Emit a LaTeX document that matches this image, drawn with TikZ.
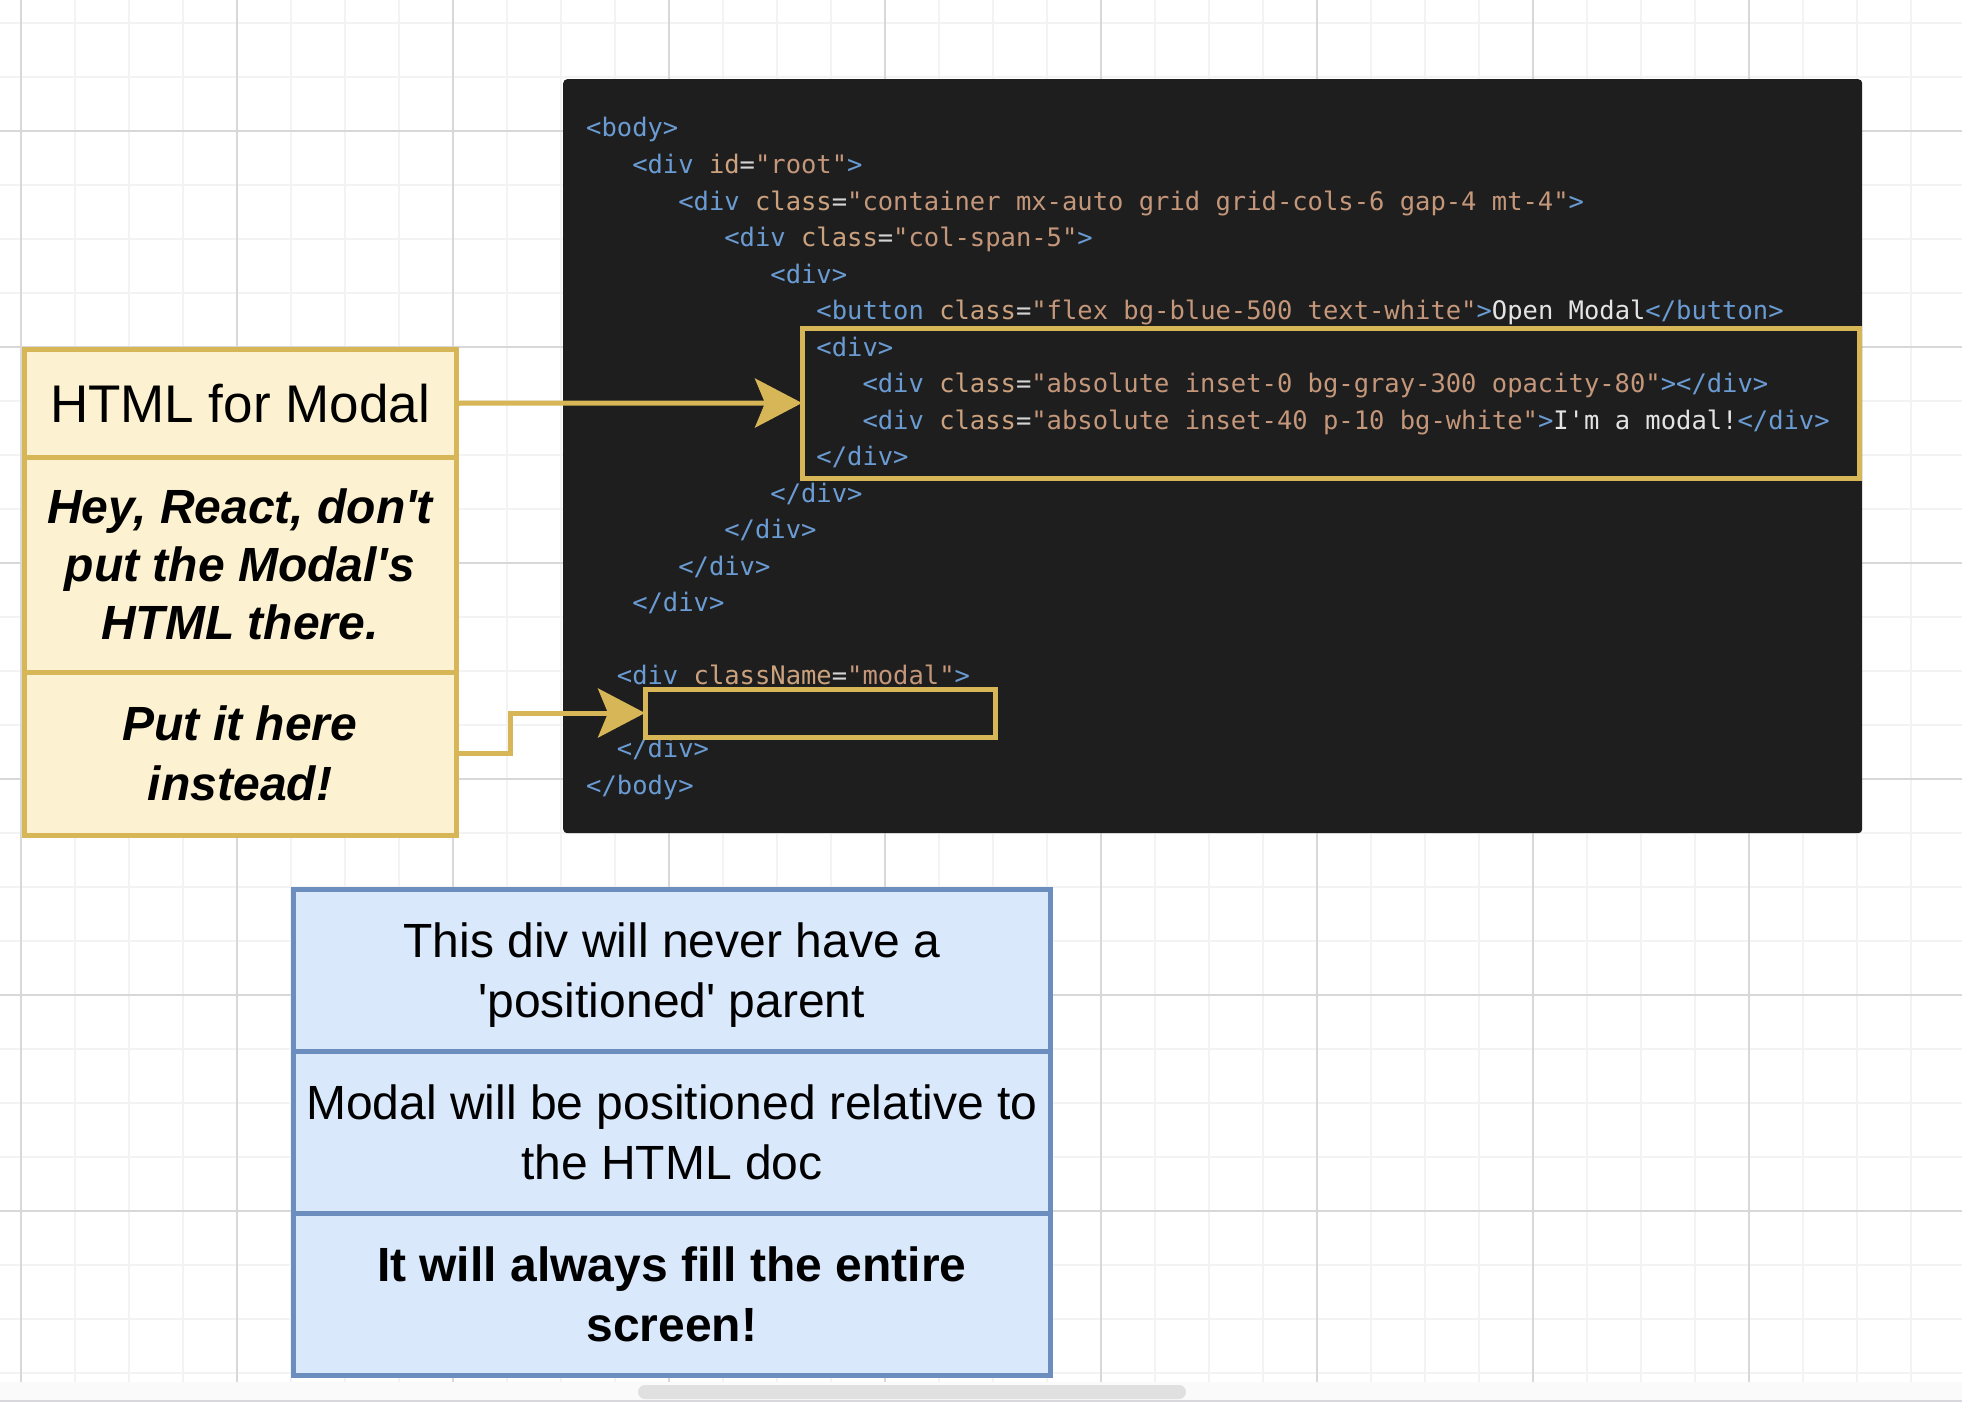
\documentclass[tikz,border=0pt]{standalone}
\usepackage{fontspec}
\setmonofont{DejaVu Sans Mono}
\newfontfamily\labelfont{Liberation Sans}
\usetikzlibrary{arrows.meta,positioning}

\definecolor{codebg}{HTML}{1E1E1E}
\definecolor{codetag}{HTML}{6A9BD3}
\definecolor{codeattr}{HTML}{CCA27E}
\definecolor{codeval}{HTML}{C4967A}
\definecolor{codeeq}{HTML}{D4D4D4}
\definecolor{codetxt}{HTML}{E4E4E4}
\definecolor{noteyellow}{HTML}{FCF1D0}
\definecolor{noteyellowline}{HTML}{D6B656}
\definecolor{noteblue}{HTML}{DAE8FC}
\definecolor{noteblueline}{HTML}{6C8EBF}
\definecolor{gridminor}{HTML}{F3F3F3}
\definecolor{gridmajor}{HTML}{D8D8D8}
\definecolor{scrolltrack}{HTML}{FAFAFA}
\definecolor{scrollthumb}{HTML}{E0E0E0}
\definecolor{scrolledge}{HTML}{D8D8DC}

\newcommand{\htag}[1]{\textcolor{codetag}{#1}}
\newcommand{\hattr}[2]{\textcolor{codeattr}{#1}\textcolor{codeeq}{=}\textcolor{codeval}{"#2"}}
\newcommand{\htxt}[1]{\textcolor{codetxt}{#1}}

\tikzset{
	codeline/.style={anchor=base west, inner sep=0, font=\fontsize{25.5}{30}\selectfont\ttfamily},
	yellowbox/.style={draw=noteyellowline, fill=noteyellow, line width=5pt, outer sep=0,
		minimum width=432pt, inner sep=0, align=center, font=\labelfont\fontsize{48}{58}\selectfont},
	bluebox/.style={draw=noteblueline, fill=noteblue, line width=5pt, outer sep=0,
		minimum width=756.5pt, minimum height=162pt, inner sep=0, align=center, text depth=0pt,
		font=\labelfont\fontsize{48}{60}\selectfont},
	markbox/.style={draw=noteyellowline, line width=5pt, outer sep=0, inner sep=0, anchor=north west},
	pointer/.style={draw=noteyellowline, line width=5pt,
		-{Stealth[length=47pt, width=49pt, inset=10pt]}}
}

\begin{document}
\begin{tikzpicture}[x=1pt, y=-1pt]
		\useasboundingbox (0,0) rectangle (1962,1402);
		\fill[white] (0,0) rectangle (1962,1402);

		% grid
		\foreach \gx in {21,75,...,1962} \draw[gridminor, line width=1.2pt] (\gx,0) -- (\gx,1382);
		\foreach \gy in {23,77,...,1382} \draw[gridminor, line width=1.2pt] (0,\gy) -- (1962,\gy);
		\foreach \gx in {21,237,...,1962} \draw[gridmajor, line width=1.2pt] (\gx,0) -- (\gx,1382);
		\foreach \gy in {131,347,...,1382} \draw[gridmajor, line width=1.2pt] (0,\gy) -- (1962,\gy);

		% scroll bar
		\fill[scrolltrack] (0,1382) rectangle (1962,1400);
		\fill[scrolledge] (0,1400) rectangle (1962,1402);
		\fill[scrollthumb, rounded corners=7pt] (638,1385) rectangle (1186,1399);

		% code panel
		\node[fill=codebg, rounded corners=4pt, minimum width=1299pt, minimum height=754pt,
			inner sep=0, anchor=north west] (panel) at (563,79) {};

		\node[codeline] (c0) at (586,137) {\htag{<body>}};
		\node[codeline] (c1) at (632.05,173.5) {\htag{<div} \hattr{id}{root}\htag{>}};
		\node[codeline] (c2) at (678.1,210) {\htag{<div} \hattr{class}{container mx-auto grid grid-cols-6 gap-4 mt-4}\htag{>}};
		\node[codeline] (c3) at (724.15,246.5) {\htag{<div} \hattr{class}{col-span-5}\htag{>}};
		\node[codeline] (c4) at (770.2,283) {\htag{<div>}};
		\node[codeline] (c5) at (816.25,319.5) {\htag{<button} \hattr{class}{flex bg-blue-500 text-white}\htag{>}\htxt{Open Modal}\htag{</button>}};
		\node[codeline] (c6) at (816.25,356) {\htag{<div>}};
		\node[codeline] (c7) at (862.3,392.5) {\htag{<div} \hattr{class}{absolute inset-0 bg-gray-300 opacity-80}\htag{></div>}};
		\node[codeline] (c8) at (862.3,429) {\htag{<div} \hattr{class}{absolute inset-40 p-10 bg-white}\htag{>}\htxt{I'm a modal!}\htag{</div>}};
		\node[codeline] (c9) at (816.25,465.5) {\htag{</div>}};
		\node[codeline] (c10) at (770.2,502) {\htag{</div>}};
		\node[codeline] (c11) at (724.15,538.5) {\htag{</div>}};
		\node[codeline] (c12) at (678.1,575) {\htag{</div>}};
		\node[codeline] (c13) at (632.05,611.5) {\htag{</div>}};
		\node[codeline] (c15) at (616.7,684.5) {\htag{<div} \hattr{className}{modal}\htag{>}};
		\node[codeline] (c17) at (616.7,757.5) {\htag{</div>}};
		\node[codeline] (c18) at (586,794) {\htag{</body>}};

		% highlights in the code
		\node[markbox, minimum width=1057pt, minimum height=150pt] (modalsrc) at (802,328) {};
		\node[markbox, minimum width=350pt, minimum height=48pt] (modalslot) at (645,689) {};

		% notes on the left
		\node[yellowbox, anchor=north west, minimum height=107.5pt,
			font=\labelfont\fontsize{53}{60}\selectfont] (htmlbox) at (24,349.5) {HTML for Modal};
		\node[yellowbox, minimum height=215pt, below=0pt of htmlbox] (heybox)
			{\bfseries\itshape Hey, React, don't\\\bfseries\itshape put the Modal's\\\bfseries\itshape HTML there.};
		\node[yellowbox, minimum height=163pt, below=0pt of heybox,
			font=\labelfont\fontsize{48}{60}\selectfont] (putbox)
			{\bfseries\itshape Put it here\\\bfseries\itshape instead!};

		\draw[pointer] (htmlbox.east) -- (modalsrc.west);
		\draw[pointer] (putbox.east) -- ++(54,0) |- (modalslot.west);

		% notes below
		\node[bluebox, anchor=north west] (parentbox) at (293.5,889) {This div will never have a\\'positioned' parent};
		\node[bluebox, below=0pt of parentbox] (relbox) {Modal will be positioned relative to\\the HTML doc};
		\node[bluebox, below=0pt of relbox] (fillbox) {\bfseries It will always fill the entire\\\bfseries screen!};
	\end{tikzpicture}
\end{document}
